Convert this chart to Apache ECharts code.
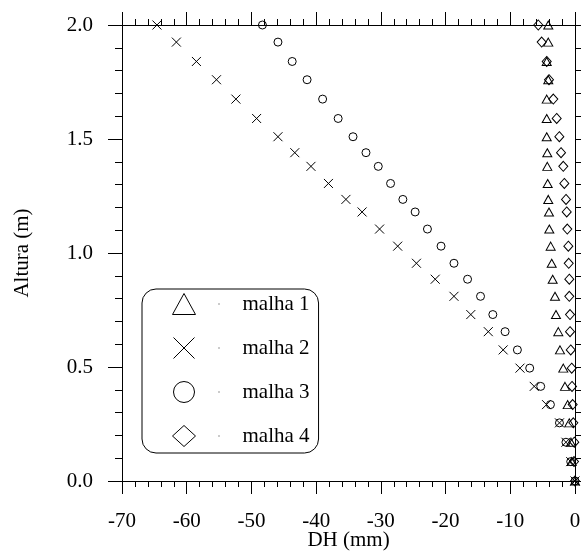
<!DOCTYPE html>
<html>
<head>
<meta charset="utf-8">
<script src="https://cdn.jsdelivr.net/npm/echarts@6/dist/echarts.min.js"></script>
<style>
html,body{margin:0;padding:0;background:#fff;}
#chart{width:581px;height:555px;}
</style>
</head>
<body>
<div id="chart"></div>
<script>
// Heights (m) of the mesh nodes
var alturas = [2.0, 1.925, 1.84, 1.76, 1.675, 1.59, 1.51, 1.44, 1.38, 1.305, 1.235, 1.18, 1.105, 1.03,
  0.955, 0.885, 0.81, 0.73, 0.655, 0.575, 0.495, 0.415, 0.335, 0.255, 0.17, 0.085, 0.0];

// DH (mm) per series
var malha1 = [-4.13, -4.13, -4.37, -4.13, -4.37, -4.37, -4.37, -4.28, -4.28, -4.22, -4.13, -4.02, -3.97, -3.76,
  -3.60, -3.45, -3.09, -2.94, -2.58, -2.32, -1.81, -1.55, -1.13, -0.88, -0.62, -0.51, 0];
var malha2 = [-64.6, -61.6, -58.5, -55.4, -52.4, -49.2, -45.9, -43.3, -40.8, -38.1, -35.4, -32.9, -30.2, -27.4,
  -24.5, -21.6, -18.7, -16.1, -13.4, -11.1, -8.5, -6.3, -4.4, -2.4, -1.4, -0.66, 0];
var malha3 = [-48.3, -45.9, -43.7, -41.4, -39.0, -36.6, -34.3, -32.3, -30.4, -28.5, -26.6, -24.7, -22.8, -20.7,
  -18.7, -16.6, -14.6, -12.7, -10.8, -8.9, -7.0, -5.3, -3.8, -2.4, -1.4, -0.66, 0];
var malha4 = [-5.67, -5.15, -4.37, -4.02, -3.35, -2.83, -2.42, -2.16, -1.81, -1.65, -1.39, -1.28, -1.19, -1.03,
  -0.97, -0.88, -0.88, -0.77, -0.77, -0.66, -0.51, -0.46, -0.36, -0.26, -0.11, -0.15, 0];

var seriesNames = ['malha 1', 'malha 2', 'malha 3', 'malha 4'];
var xTicks = {min: -70, max: 0, interval: 10};
var yTicks = {min: 0, max: 2, interval: 0.5};

var FONT = '"Liberation Serif", "Times New Roman", serif';
var FS = 21;
var crossPath = 'path://M0,0L10,10M10,0L0,10';

function pairs(xs) { return xs.map(function (x, i) { return [x, alturas[i]]; }); }

var symbols = ['triangle', crossPath, 'circle', 'diamond'];
var sizes = [[9, 8], 9, 8, [9, 10]];
var dataSets = [malha1, malha2, malha3, malha4];

var series = dataSets.map(function (d, i) {
  return {
    name: seriesNames[i],
    type: 'scatter',
    symbol: symbols[i],
    symbolSize: sizes[i],
    data: pairs(d),
    itemStyle: {color: 'rgba(0,0,0,0)', borderColor: '#000', borderWidth: 1, opacity: 1},
    emphasis: {disabled: true},
    z: 3
  };
});

var axisCommonX = {
  type: 'value', min: xTicks.min, max: xTicks.max, interval: xTicks.interval,
  splitLine: {show: false},
  axisLine: {show: true, onZero: false, lineStyle: {color: '#000', width: 1}},
  axisTick: {show: true, inside: false, length: 13, lineStyle: {color: '#000'}},
  minorTick: {show: true, splitNumber: 5, length: 6, lineStyle: {color: '#000'}},
  minorSplitLine: {show: false}
};
var axisCommonY = {
  type: 'value', min: yTicks.min, max: yTicks.max, interval: yTicks.interval,
  splitLine: {show: false},
  axisLine: {show: true, onZero: false, lineStyle: {color: '#000', width: 1}},
  axisTick: {show: true, inside: false, length: 14, lineStyle: {color: '#000'}},
  minorTick: {show: true, splitNumber: 5, length: 7, lineStyle: {color: '#000'}},
  minorSplitLine: {show: false}
};

var chart = echarts.init(document.getElementById('chart'), null, {renderer: 'canvas'});
chart.setOption({
  animation: false,
  backgroundColor: '#fff',
  textStyle: {fontFamily: FONT},
  grid: {left: 122, right: 6, top: 25, bottom: 74, containLabel: false, outerBoundsMode: 'none'},
  xAxis: [
    Object.assign({}, axisCommonX, {
      position: 'bottom',
      name: 'DH (mm)', nameLocation: 'middle', nameGap: 49, nameMoveOverlap: false,
      nameTextStyle: {fontFamily: FONT, fontSize: FS, color: '#000'},
      axisLabel: {show: true, margin: 30, fontFamily: FONT, fontSize: FS, color: '#000',
        showMinLabel: true, showMaxLabel: true}
    }),
    Object.assign({}, axisCommonX, {
      position: 'top',
      axisLabel: {show: false}
    })
  ],
  yAxis: [
    Object.assign({}, axisCommonY, {
      position: 'left',
      name: 'Altura (m)', nameLocation: 'middle', nameGap: 89, nameRotate: 90, nameMoveOverlap: false,
      nameTextStyle: {fontFamily: FONT, fontSize: FS, color: '#000'},
      axisLabel: {show: true, margin: 29, fontFamily: FONT, fontSize: FS, color: '#000',
        formatter: function (v) { return v.toFixed(1); }}
    }),
    Object.assign({}, axisCommonY, {
      position: 'right',
      axisLabel: {show: false}
    })
  ],
  legend: {
    orient: 'vertical',
    left: 142, top: 289,
    padding: [4, 9, 6, 30],
    itemWidth: 23, itemHeight: 21,
    itemGap: 22,
    borderColor: '#000', borderWidth: 1, borderRadius: 14,
    backgroundColor: '#fff',
    selectedMode: false,
    data: seriesNames.map(function (n, i) {
      return {name: n, icon: symbols[i],
        itemStyle: {color: 'rgba(0,0,0,0)', borderColor: '#000', borderWidth: 1}};
    }),
    formatter: function (name) { return '{s| }{d| }{t|' + name + '}'; },
    textStyle: {
      fontFamily: FONT, fontSize: FS, color: '#000',
      rich: {
        s: {width: 18, fontSize: FS},
        d: {width: 1, height: 1, backgroundColor: '#333', fontSize: 1},
        t: {fontFamily: FONT, fontSize: FS, color: '#000', padding: [0, 0, 0, 23]}
      }
    }
  },
  series: series
});
</script>
</body>
</html>
